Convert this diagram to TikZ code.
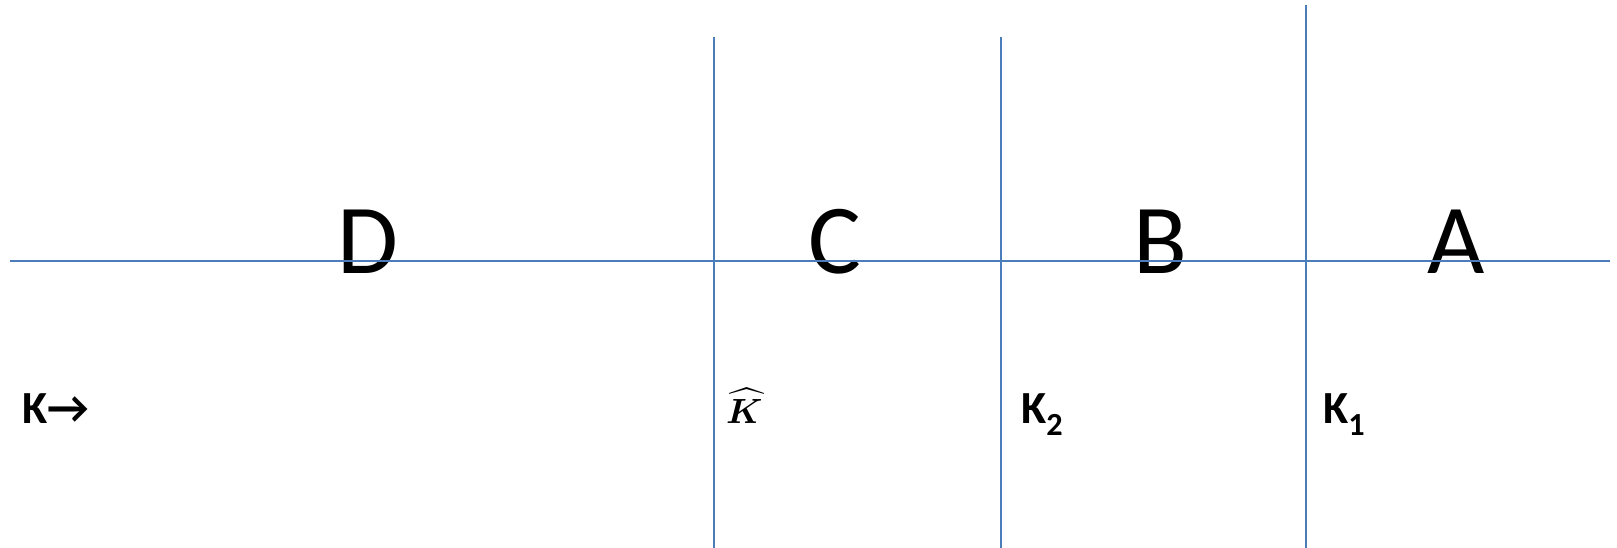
\documentclass[tikz,border=0pt]{standalone}
\usepackage{amsmath}
\usepackage{fontspec}
\setmainfont{Carlito}
\definecolor{lineblue}{HTML}{4A7EBB}
\begin{document}
\begin{tikzpicture}[x=1pt,y=-1pt,
  gridline/.style={draw=lineblue,line width=2pt},
  big/.style={anchor=base,inner sep=0pt,font=\fontsize{99}{99}\selectfont},
  klabel/.style={anchor=base west,inner sep=0pt,font=\fontsize{46}{46}\selectfont\bfseries}]
\useasboundingbox (0,0) rectangle (1617,548);
\coordinate (hL) at (10,261);
\coordinate (hR) at (1610,261);
\coordinate (v1t) at (714,37);
\coordinate (v1b) at (714,548);
\coordinate (v2t) at (1001,37);
\coordinate (v2b) at (1001,548);
\coordinate (v3t) at (1306,5);
\coordinate (v3b) at (1306,548);
\node[big] (D) at (368,273) {D};
\node[big] (C) at (835,273) {C};
\node[big] (B) at (1160,273) {B};
\node[big] (A) at (1456,273) {A};
\draw[gridline] (hL) -- (hR);
\draw[gridline] (v1t) -- (v1b);
\draw[gridline] (v2t) -- (v2b);
\draw[gridline] (v3t) -- (v3b);
\node[klabel] (k) at (22,423) {K→};
\node[anchor=base west,inner sep=0pt] (kh) at (726,423) {\scalebox{3.5}{\boldmath$\widehat{K}$}};
\node[klabel] (k2) at (1021,423) {K\textsubscript{2}};
\node[klabel] (k1) at (1323,423) {K\textsubscript{1}};
\end{tikzpicture}
\end{document}
